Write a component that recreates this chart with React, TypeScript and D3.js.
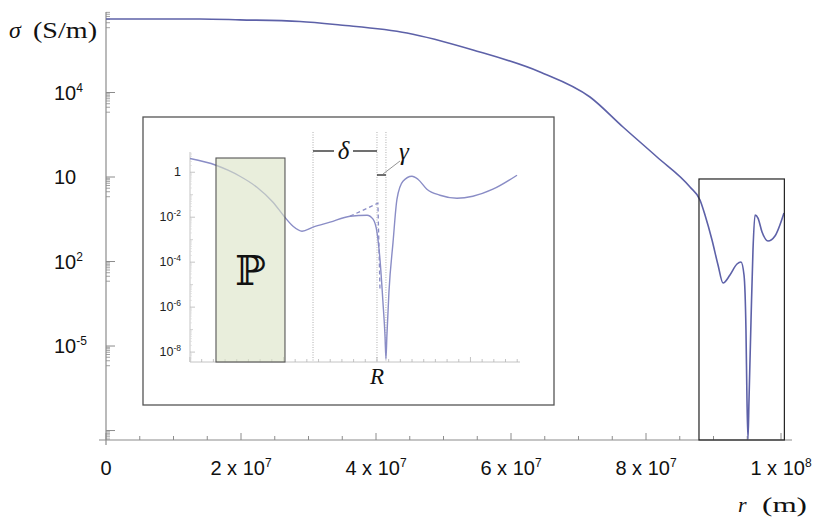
import React from "react";
import * as d3 from "d3";

// ---------- data ----------
// main curve: radius r (m) and log10 of conductivity sigma (S/m)
const mainR = [0, 1.39e7, 1.985e7, 2.874e7, 3.467e7, 4.459e7, 5.437e7, 6.43e7, 7.17e7, 7.659e7, 8.163e7, 8.652e7, 8.8e7,
  8.874e7, 8.978e7, 9.067e7, 9.141e7, 9.244e7, 9.348e7, 9.407e7, 9.452e7, 9.481e7, 9.496e7, 9.511e7, 9.526e7, 9.556e7,
  9.585e7, 9.615e7, 9.659e7, 9.719e7, 9.807e7, 9.911e7, 1.0044e8];
const mainLogSigma = [6.609, 6.609, 6.58, 6.52, 6.396, 6.112, 5.509, 4.728, 3.84, 2.775, 1.71, 0.645, 0.184,
  -0.349, -1.236, -2.124, -2.763, -2.479, -2.088, -2.017, -2.479, -4.432, -6.917, -8.3, -6.917, -4.077,
  -1.592, -0.349, -0.456, -0.952, -1.272, -1.094, -0.278];

const xTickValues = [0, 2e7, 4e7, 6e7, 8e7, 1e8];
const xTickMant = ["0", "2 x 10", "4 x 10", "6 x 10", "8 x 10", "1 x 10"];
const xTickExp = ["", "7", "7", "7", "7", "8"];

const yTickExps = [4, 1, -2, -5];
const yTickBase = ["10", "10", "10", "10"];
const yTickSup = ["4", "", "2", "-5"];
const yMajorExps = [7, 4, 1, -2, -5, -8];

// zoomed region marked on the main plot
const boxR = [8.785e7, 1.005e8];
const boxTopLog = 0.93;

// inset curve: radius in units of R, log10 sigma
const insetU = [0, 0.139, 0.203, 0.267, 0.358, 0.444, 0.503, 0.551, 0.599, 0.658, 0.749, 0.856, 0.947, 0.979, 1.0,
  1.016, 1.032, 1.043, 1.048, 1.053, 1.064, 1.086, 1.107, 1.139, 1.187, 1.219, 1.267, 1.337, 1.428, 1.513, 1.62, 1.749];
const insetLog = [0.609, 0.311, 0.089, -0.178, -0.667, -1.333, -1.956, -2.4, -2.622, -2.444, -2.222, -1.956, -1.911,
  -2.089, -2.667, -3.867, -5.778, -7.289, -8.311, -7.289, -5.333, -3.111, -1.2, -0.4, -0.178, -0.311, -0.756, -1.022,
  -1.156, -1.067, -0.756, -0.133];
const dashedU = [0.856, 1.005, 1.011, 1.016];
const dashedLog = [-1.956, -1.378, -3.42, -5.2];

const insetYTickExps = [0, -2, -4, -6, -8];
const insetYTickBase = ["1", "10", "10", "10", "10"];
const insetYTickSup = ["", "-2", "-4", "-6", "-8"];
const dottedU = [0.658, 1.0, 1.048];
const pRegion = [0.139, 0.508];

// ---------- layout ----------
const W = 830, H = 527;
const X0 = 106, X1 = 781, Y0 = 440, YT = 12;
const sans = "Liberation Sans, Arial, sans-serif";
const serif = "Liberation Serif, Times New Roman, serif";
const curveColor = "#5d61a8";
const insetColor = "#8a8dc6";
const axisColor = "#8c8c8c";

export default function App() {
  const x = d3.scaleLinear().domain([0, 1e8]).range([X0, X1]);
  const y = d3.scaleLog().domain([Math.pow(10, -8.336), Math.pow(10, 6.858)]).range([Y0, YT]);

  const mainLine = d3.line<number>()
    .x((_, i) => x(mainR[i]))
    .y((d) => y(Math.pow(10, d)))
    .curve(d3.curveMonotoneX);

  const yMinor: number[] = [];
  yMajorExps.forEach((e) => {
    for (let k = 2; k <= 9; k++) {
      const v = k * Math.pow(10, e - 1);
      if (v >= y.domain()[0] && v <= y.domain()[1]) yMinor.push(v);
    }
  });
  const xMinor = d3.range(0, 1.0001e8, 5e6);

  // inset
  const IX0 = 190, IX1 = 520, IY0 = 362, IYT = 152;
  const ix = d3.scaleLinear().domain([0, 1.765]).range([IX0, IX1]);
  const iy = d3.scaleLog().domain([Math.pow(10, -8.44), Math.pow(10, 0.9)]).range([IY0, IYT]);
  const insetLine = d3.line<number>()
    .x((_, i) => ix(insetU[i]))
    .y((d) => iy(Math.pow(10, d)))
    .curve(d3.curveMonotoneX);
  const dashLine = d3.line<number>()
    .x((_, i) => ix(dashedU[i]))
    .y((d) => iy(Math.pow(10, d)));
  const insetXTicks = d3.range(0, 1.766, 1 / 16);
  const insetYMinor: number[] = [];
  for (let e = -9; e <= 0; e++) {
    for (let k = 2; k <= 9; k++) {
      const v = k * Math.pow(10, e);
      if (v >= iy.domain()[0] && v <= iy.domain()[1]) insetYMinor.push(v);
    }
  }
  const insetYOdd = [-1, -3, -5, -7].map((e) => Math.pow(10, e));
  const boxTop = y(Math.pow(10, boxTopLog));

  return (
    <svg width={W} height={H} style={{ position: "absolute", left: 0, top: 0, background: "#fff" }}>
      {/* main axes */}
      <line x1={X0} x2={X0} y1={YT} y2={Y0 + 5} stroke={axisColor} strokeWidth={1.2} />
      <line x1={X0 - 7} x2={X1 + 11} y1={Y0} y2={Y0} stroke={axisColor} strokeWidth={1.2} />
      {yMajorExps.filter((e) => Math.pow(10, e) >= y.domain()[0] && Math.pow(10, e) <= y.domain()[1]).map((e) => (
        <line key={"ym" + e} x1={X0} x2={X0 + 9} y1={y(Math.pow(10, e))} y2={y(Math.pow(10, e))} stroke={axisColor} strokeWidth={1} />
      ))}
      {yMinor.map((v, i) => (
        <line key={"yn" + i} x1={X0} x2={X0 + 4} y1={y(v)} y2={y(v)} stroke={axisColor} strokeWidth={0.8} />
      ))}
      {xMinor.map((v, i) => {
        const major = xTickValues.some((t) => Math.abs(t - v) < 1);
        return <line key={"xt" + i} x1={x(v)} x2={x(v)} y1={Y0} y2={Y0 - (major ? 7 : 4)} stroke={axisColor} strokeWidth={1} />;
      })}
      {yTickExps.map((e, i) => (
        <text key={"yl" + i} x={54} y={y(Math.pow(10, e)) + 7} fontFamily={sans} fontSize={20} fill="#111">
          {yTickBase[i]}
          {yTickSup[i] && <tspan fontSize={12} dy={-8}>{yTickSup[i]}</tspan>}
        </text>
      ))}
      {xTickValues.map((v, i) => (
        <text key={"xl" + i} x={x(v)} y={475} fontFamily={sans} fontSize={20} fill="#111" textAnchor="middle">
          {xTickMant[i]}
          {xTickExp[i] && <tspan fontSize={12} dy={-8}>{xTickExp[i]}</tspan>}
        </text>
      ))}
      <text x={9} y={38} fontFamily={serif} fontStyle="italic" fontSize={24} fill="#111">σ</text>
      <text x={33} y={38} fontFamily={serif} fontSize={23} fill="#111" textLength={64} lengthAdjust="spacingAndGlyphs">(S/m)</text>
      <text x={738} y={512} fontFamily={serif} fontStyle="italic" fontSize={22} fill="#111">r</text>
      <text x={762} y={512} fontFamily={serif} fontSize={22} fill="#111" textLength={45} lengthAdjust="spacingAndGlyphs">(m)</text>

      {/* main curve */}
      <path d={mainLine(mainLogSigma) || ""} fill="none" stroke={curveColor} strokeWidth={1.6} />

      {/* zoom box */}
      <rect x={x(boxR[0])} y={boxTop} width={x(boxR[1]) - x(boxR[0])} height={Y0 - boxTop} fill="none" stroke="#222" strokeWidth={1.2} />

      {/* inset */}
      <rect x={143} y={117} width={411} height={288} fill="#fff" stroke="#555" strokeWidth={1.3} />
      <line x1={IX0} x2={IX0} y1={IYT} y2={IY0} stroke="#c4c4c4" strokeWidth={1} />
      <line x1={IX0} x2={IX1} y1={IY0} y2={IY0} stroke="#c4c4c4" strokeWidth={1} />
      {insetXTicks.map((v, i) => (
        <line key={"ixt" + i} x1={ix(v)} x2={ix(v)} y1={IY0} y2={IY0 - (i % 8 === 0 ? 5 : 3)} stroke="#b5b5b5" strokeWidth={0.8} />
      ))}
      {insetYTickExps.map((e, i) => (
        <line key={"iyt" + i} x1={IX0} x2={IX0 + 5} y1={iy(Math.pow(10, e))} y2={iy(Math.pow(10, e))} stroke="#b5b5b5" strokeWidth={0.8} />
      ))}
      {insetYOdd.map((v, i) => (
        <line key={"iyo" + i} x1={IX0} x2={IX0 + 3} y1={iy(v)} y2={iy(v)} stroke="#c8c8c8" strokeWidth={0.8} />
      ))}
      {insetYMinor.map((v, i) => (
        <line key={"iym" + i} x1={IX0} x2={IX0 + 2} y1={iy(v)} y2={iy(v)} stroke="#d6d6d6" strokeWidth={0.6} />
      ))}
      {insetYTickExps.map((e, i) => (
        <text key={"iyl" + i} x={181} y={iy(Math.pow(10, e)) + 4} fontFamily={sans} fontSize={12.5} fill="#222" textAnchor="end">
          {insetYTickBase[i]}
          {insetYTickSup[i] && <tspan fontSize={8.5} dy={-5}>{insetYTickSup[i]}</tspan>}
        </text>
      ))}
      {dottedU.map((u, i) => (
        <line key={"dv" + i} x1={ix(u)} x2={ix(u)} y1={132} y2={IY0} stroke="#999" strokeWidth={0.8} strokeDasharray="1,1.5" />
      ))}
      <path d={insetLine(insetLog) || ""} fill="none" stroke={insetColor} strokeWidth={1.4} />
      <path d={dashLine(dashedLog) || ""} fill="none" stroke={insetColor} strokeWidth={1.3} strokeDasharray="4,3" />
      <rect x={ix(pRegion[0])} y={158} width={ix(pRegion[1]) - ix(pRegion[0])} height={IY0 - 158}
        fill="#dae3c5" fillOpacity={0.6} stroke="#555" strokeWidth={1.1} />
      <text x={(ix(pRegion[0]) + ix(pRegion[1])) / 2} y={285} fontFamily="DejaVu Serif, DejaVu Sans, serif" fontSize={41} fill="#111" textAnchor="middle">ℙ</text>

      {/* delta bracket */}
      <line x1={ix(dottedU[0])} x2={334} y1={151} y2={151} stroke="#111" strokeWidth={1.2} />
      <line x1={353} x2={ix(dottedU[1])} y1={151} y2={151} stroke="#111" strokeWidth={1.2} />
      <text x={343.5} y={159} fontFamily={serif} fontStyle="italic" fontSize={25} fill="#111" textAnchor="middle">δ</text>
      {/* gamma */}
      <line x1={ix(dottedU[1])} x2={ix(dottedU[2])} y1={175} y2={175} stroke="#111" strokeWidth={1.2} />
      <line x1={383} x2={400} y1={174} y2={161} stroke="#888" strokeWidth={0.9} />
      <text x={404} y={160} fontFamily={serif} fontStyle="italic" fontSize={25} fill="#111" textAnchor="middle">γ</text>
      <text x={ix(1.0)} y={384} fontFamily={serif} fontStyle="italic" fontSize={23} fill="#111" textAnchor="middle">R</text>
    </svg>
  );
}
